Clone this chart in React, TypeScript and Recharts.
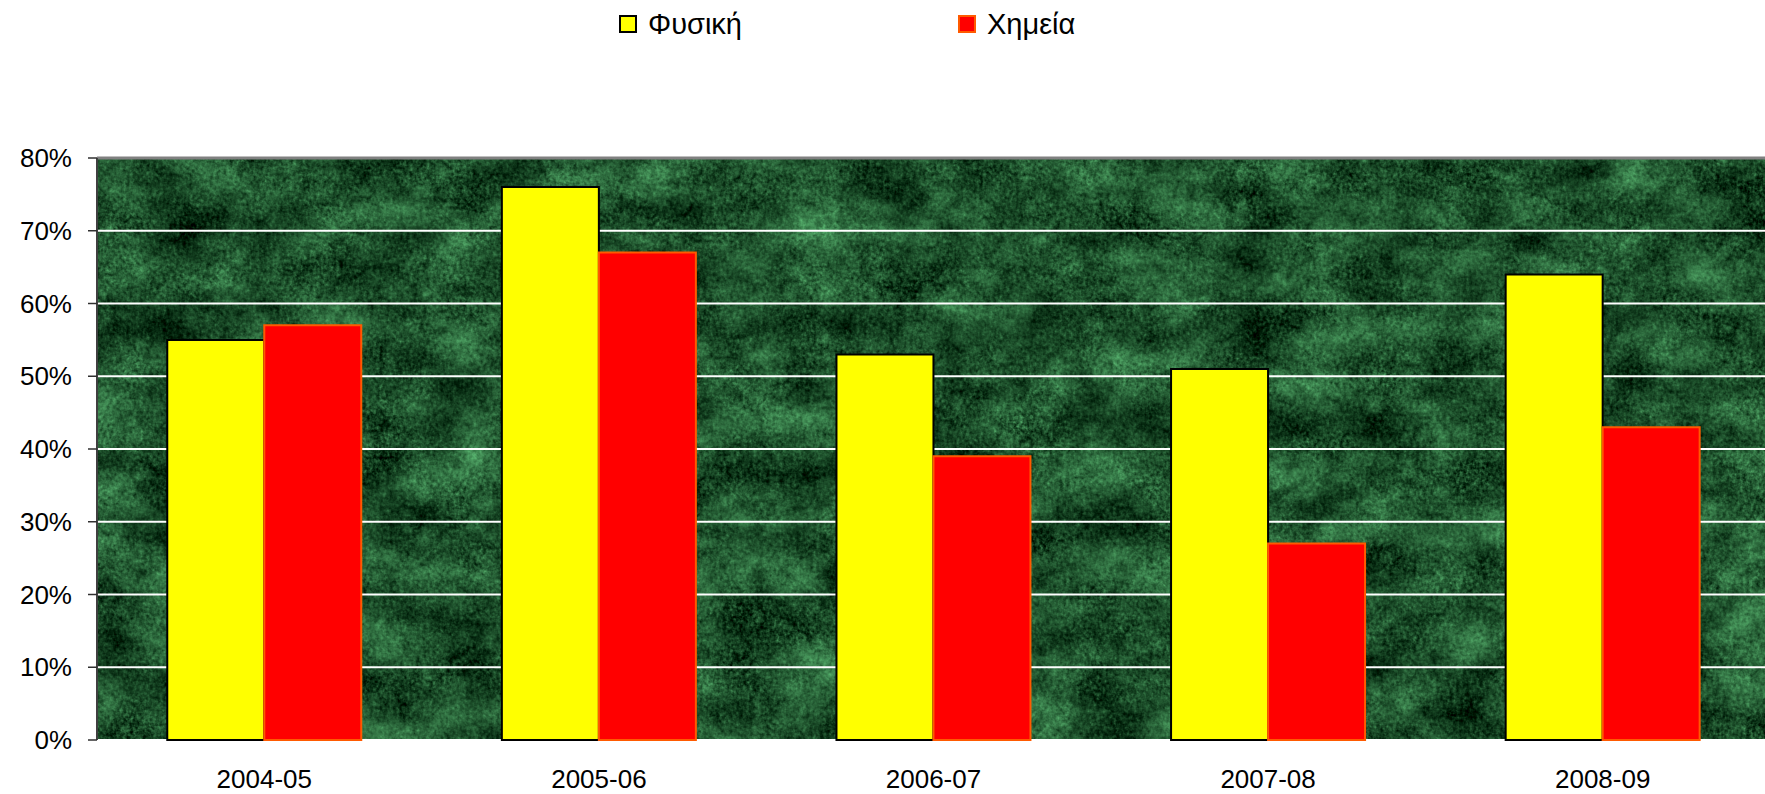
import React from 'react';
import { BarChart, Bar, XAxis, YAxis, CartesianGrid, ReferenceLine } from 'recharts';

const seasons = ['2004-05', '2005-06', '2006-07', '2007-08', '2008-09'];
const physics = [55, 76, 53, 51, 64];
const chemistry = [57, 67, 39, 27, 43];
const yTicks = [0, 10, 20, 30, 40, 50, 60, 70, 80];
const edgeTicks = [0, 1, 2, 3, 4, 5];

const series = [
  { key: 'physics', name: 'Φυσική', fill: '#FFFF00', stroke: '#000000' },
  { key: 'chemistry', name: 'Χημεία', fill: '#FF0000', stroke: '#FF5A00' },
];

const data = seasons.map((s, i) => ({ season: s, physics: physics[i], chemistry: chemistry[i] }));

const W = 1765;
const H = 794;
// the plot runs a few pixels past the right edge of the picture
const CHART_W = 1770;
const font = '"Liberation Sans", Arial, sans-serif';

const legendPos = [619, 958];

export default function App() {
  return (
    <div style={{ position: 'absolute', left: 0, top: 0, width: W, height: H, fontFamily: font, background: '#fff', overflow: 'hidden' }}>
      {series.map((s, i) => (
        <div
          key={s.key}
          style={{ position: 'absolute', left: legendPos[i], top: 7, display: 'flex', alignItems: 'center', fontSize: 29, lineHeight: '34px', color: '#000', zIndex: 2 }}
        >
          <span
            style={{
              display: 'inline-block',
              width: 14,
              height: 14,
              background: s.fill,
              border: `2px solid ${s.stroke}`,
              marginRight: 11,
            }}
          />
          <span>{s.name}</span>
        </div>
      ))}
      <BarChart
        width={CHART_W}
        height={H}
        data={data}
        margin={{ top: 158, right: 0, bottom: 0, left: 0 }}
        barCategoryGap="21%"
        barGap={0}
      >
        <defs>
          {/* green marble background of the plot area */}
          <filter id="marbleFx" x="0" y="0" width={CHART_W} height={H} filterUnits="userSpaceOnUse" colorInterpolationFilters="sRGB">
            <feTurbulence type="fractalNoise" baseFrequency="0.014 0.02" numOctaves="4" seed="11" result="coarse" />
            <feTurbulence type="turbulence" baseFrequency="0.06" numOctaves="3" seed="5" result="veins" />
            <feTurbulence type="fractalNoise" baseFrequency="0.3" numOctaves="2" seed="3" result="fine" />
            <feComposite in="coarse" in2="fine" operator="arithmetic" k1="0" k2="0.6" k3="0.4" k4="0" result="mix1" />
            <feComposite in="mix1" in2="veins" operator="arithmetic" k1="0" k2="0.85" k3="0.3" k4="-0.02" result="mix" />
            <feColorMatrix
              in="mix"
              type="matrix"
              values="0.65 0 0 0 -0.17  1.1 0 0 0 -0.17  0.75 0 0 0 -0.16  0 0 0 0 1"
            />
          </filter>
          <pattern id="marble" patternUnits="userSpaceOnUse" x="0" y="0" width={CHART_W} height={H}>
            <rect x="0" y="0" width={CHART_W} height={H} filter="url(#marbleFx)" />
          </pattern>
        </defs>
        <CartesianGrid
          vertical={false}
          stroke="#FFFFFF"
          strokeWidth={2}
          fill="url(#marble)"
          fillOpacity={1}
        />
        <XAxis
          xAxisId="edge"
          type="number"
          domain={[0, 5]}
          ticks={edgeTicks}
          tick={false}
          tickSize={8}
          height={0}
          axisLine={{ stroke: '#8a8a8a', strokeWidth: 1.5 }}
          tickLine={{ stroke: '#303030', strokeWidth: 1.5 }}
        />
        <XAxis
          dataKey="season"
          height={54}
          tickSize={0}
          tickMargin={30}
          axisLine={false}
          tickLine={false}
          tick={{ fill: '#000', fontSize: 26, fontFamily: font }}
        />
        <YAxis
          width={97}
          domain={[0, 80]}
          ticks={yTicks}
          tickFormatter={(v: number) => `${v}%`}
          tickSize={9}
          tickMargin={16}
          axisLine={{ stroke: '#404040', strokeWidth: 2 }}
          tickLine={{ stroke: '#303030', strokeWidth: 1.5 }}
          tick={{ fill: '#000', fontSize: 26, fontFamily: font }}
        />
        <ReferenceLine y={80} stroke="#808080" strokeWidth={3} />
        {series.map((s) => (
          <Bar
            key={s.key}
            dataKey={s.key}
            name={s.name}
            fill={s.fill}
            stroke={s.stroke}
            strokeWidth={2}
            isAnimationActive={false}
          />
        ))}
      </BarChart>
    </div>
  );
}
